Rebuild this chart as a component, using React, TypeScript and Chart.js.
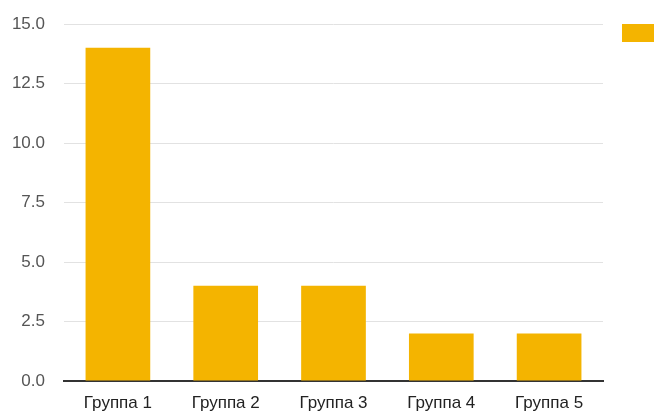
import React, { useEffect, useRef } from "react";
import { Chart, registerables } from "chart.js";

Chart.register(...registerables);

const categories = ["Группа 1", "Группа 2", "Группа 3", "Группа 4", "Группа 5"];
const values = [14, 4, 4, 2, 2];
const seriesLabel = "Ряд 1";
const yMin = 0;
const yMax = 15;
const yStep = 2.5;

const barColor = "#F4B400";
const fontFamily = "'Liberation Sans', Arial, sans-serif";

const legendSwatch = {
  id: "legendSwatch",
  afterDraw(chart: any) {
    const ctx = chart.ctx;
    const ds = chart.data.datasets[0];
    const x = chart.chartArea.right + 19;
    const y = chart.chartArea.top;
    ctx.save();
    ctx.fillStyle = ds.backgroundColor;
    ctx.fillRect(x, y, 40, 18);
    ctx.fillStyle = "#222";
    ctx.font = "17px " + fontFamily;
    ctx.textBaseline = "middle";
    ctx.fillText(ds.label, x + 48, y + 9);
    ctx.restore();
  },
};

export default function App() {
  const ref = useRef<HTMLCanvasElement>(null);
  useEffect(() => {
    document.body.style.margin = "0";
    const chart = new Chart(ref.current!, {
      type: "bar",
      data: {
        labels: categories,
        datasets: [
          {
            label: seriesLabel,
            data: values,
            backgroundColor: barColor,
            barPercentage: 0.6,
            categoryPercentage: 1,
          },
        ],
      },
      options: {
        responsive: false,
        animation: false,
        maintainAspectRatio: false,
        layout: { padding: { top: 24, right: 51, bottom: 0, left: 0 } },
        plugins: { legend: { display: false }, tooltip: { enabled: false } },
        scales: {
          x: {
            z: 1,
            grid: { display: false },
            border: { display: true, color: "#333", width: 2 },
            afterFit: (s: any) => {
              s.height = 31;
              s.paddingLeft = 0;
              s.paddingRight = 0;
            },
            ticks: {
              color: "#222",
              padding: 4,
              font: { family: fontFamily, size: 17 },
            },
          },
          y: {
            min: yMin,
            max: yMax,
            border: { display: false },
            afterFit: (s: any) => {
              s.width = 64;
              s.paddingTop = 0;
              s.paddingBottom = 0;
            },
            grid: {
              drawTicks: false,
              color: (c: any) => (c.tick && c.tick.value === 0 ? "rgba(0,0,0,0)" : "#e2e2e2"),
            },
            ticks: {
              stepSize: yStep,
              padding: 19,
              color: "#555",
              font: { family: fontFamily, size: 17 },
              callback: (v: any) => Number(v).toFixed(1),
            },
          },
        },
      },
      plugins: [legendSwatch],
    });
    return () => chart.destroy();
  }, []);
  return (
    <div style={{ width: 654, height: 412 }}>
      <canvas ref={ref} width={654} height={412} />
    </div>
  );
}
